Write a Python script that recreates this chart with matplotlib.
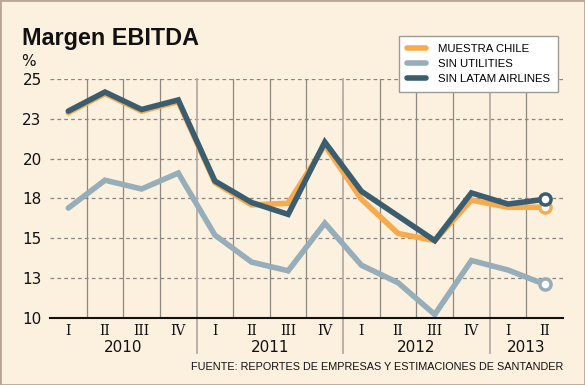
import matplotlib
matplotlib.use("Agg")
import matplotlib.pyplot as plt
from matplotlib.lines import Line2D
from matplotlib.transforms import blended_transform_factory
from matplotlib.patches import Rectangle

# datos trimestrales (%)
trimestres = ["I", "II", "III", "IV", "I", "II", "III", "IV",
              "I", "II", "III", "IV", "I", "II"]
anios = ["2010", "2011", "2012", "2013"]
muestra_chile = [22.9, 24.1, 23.0, 23.6, 18.5, 17.1, 17.2, 20.85,
                 17.45, 15.3, 14.85, 17.4, 16.95, 16.95]
sin_utilities = [16.9, 18.65, 18.1, 19.1, 15.2, 13.5, 12.95, 15.95,
                 13.3, 12.2, 10.2, 13.6, 13.0, 12.1]
sin_latam = [23.0, 24.2, 23.1, 23.7, 18.6, 17.25, 16.5, 21.05,
             17.95, 16.4, 14.85, 17.85, 17.15, 17.45]
y_ticks = [10, 12.5, 15, 17.5, 20, 22.5, 25]
y_labels = ["10", "13", "15", "18", "20", "23", "25"]

bg = "#FCF0DF"
c_orange = "#F9AA4C"
c_light = "#96ADBA"
c_dark = "#3A5E6F"
sans = ["Liberation Sans", "DejaVu Sans"]

fig = plt.figure(figsize=(5.85, 3.85), dpi=100, facecolor=bg)
ax = fig.add_axes([50 / 585, 1 - 317.7 / 385, 513 / 585, 238.4 / 385])
ax.set_facecolor(bg)
fig.patches.append(Rectangle((0, 0), 1, 1, transform=fig.transFigure,
                             fill=False, edgecolor="#B8A595", linewidth=2))

x = list(range(len(trimestres)))
ax.set_xlim(-0.5, 13.5)
ax.set_ylim(10, 25)

# grid horizontal punteada
for yv in y_ticks[1:]:
    ax.axhline(yv, color="#8A8580", linestyle=(0, (3, 2.5)), linewidth=0.9, zorder=1)

# lineas verticales entre trimestres (las de cambio de año bajan hasta el año)
for i in range(1, 14):
    xv = i - 0.5
    if i % 4 == 0:
        ax.add_line(Line2D([xv, xv], [25, 7.8], color="#B5ADA5", linewidth=1.3,
                           clip_on=False, zorder=1))
    else:
        ax.plot([xv, xv], [10, 25], color="#8F8880", linewidth=0.9, zorder=1)

kw = dict(linewidth=4, solid_joinstyle="miter", solid_capstyle="round", clip_on=False)
ax.plot(x, muestra_chile, color=c_orange, zorder=3, **kw)
ax.plot(x, sin_utilities, color=c_light, zorder=4, **kw)
ax.plot(x, sin_latam, color=c_dark, zorder=5, **kw)
for serie, col, z in [(muestra_chile, c_orange, 6), (sin_utilities, c_light, 6),
                      (sin_latam, c_dark, 7)]:
    ax.plot(x[-1], serie[-1], "o", markersize=8, markerfacecolor="white",
            markeredgecolor=col, markeredgewidth=2.5, zorder=z, clip_on=False)

for s in ["top", "right", "left"]:
    ax.spines[s].set_visible(False)
ax.spines["bottom"].set_color("#111111")
ax.spines["bottom"].set_linewidth(1.5)
ax.spines["bottom"].set_zorder(8)

ax.set_yticks(y_ticks)
ax.set_yticklabels(y_labels, fontsize=11, color="#111111")
ax.tick_params(axis="y", length=0, pad=6)
ax.set_xticks(x)
ax.set_xticklabels(trimestres, fontsize=10, family="DejaVu Serif", color="#111111")
ax.tick_params(axis="x", length=0, pad=4.5)

trans = blended_transform_factory(ax.transData, fig.transFigure)
for k, a in enumerate(anios):
    centro = 1.5 + 4 * k if k < 3 else 12.5
    ax.text(centro, 1 - 347.5 / 385, a, transform=trans, ha="center", va="center",
            fontsize=11, color="#111111")

fig.text(22 / 585, 1 - 45 / 385, "Margen EBITDA", fontsize=16.8, fontweight="bold",
         va="baseline", ha="left", color="#111111", family=sans)
fig.text(21 / 585, 1 - 61.5 / 385, "%", fontsize=11, va="center", ha="left", color="#111111")
fig.text(563 / 585, 1 - 367 / 385, "FUENTE: REPORTES DE EMPRESAS Y ESTIMACIONES DE SANTANDER",
         fontsize=7.8, ha="right", va="center", color="#111111", family=sans)

handles = [Line2D([], [], color=c, linewidth=4, solid_capstyle="round")
           for c in [c_orange, c_light, c_dark]]
leg = fig.legend(handles, ["MUESTRA CHILE", "SIN UTILITIES", "SIN LATAM AIRLINES"],
                 loc="upper left", bbox_to_anchor=(399 / 585, 1 - 36 / 385),
                 frameon=True, fancybox=False, prop={"family": sans, "size": 8.2},
                 handlelength=1.7, handletextpad=1.0, labelspacing=0.42,
                 borderpad=0.7, borderaxespad=0)
leg.get_frame().set_edgecolor("#A09A95")
leg.get_frame().set_linewidth(1)
leg.get_frame().set_facecolor("white")
leg.get_frame().set_alpha(1)

fig.savefig("out.png", dpi=100, facecolor=bg)
